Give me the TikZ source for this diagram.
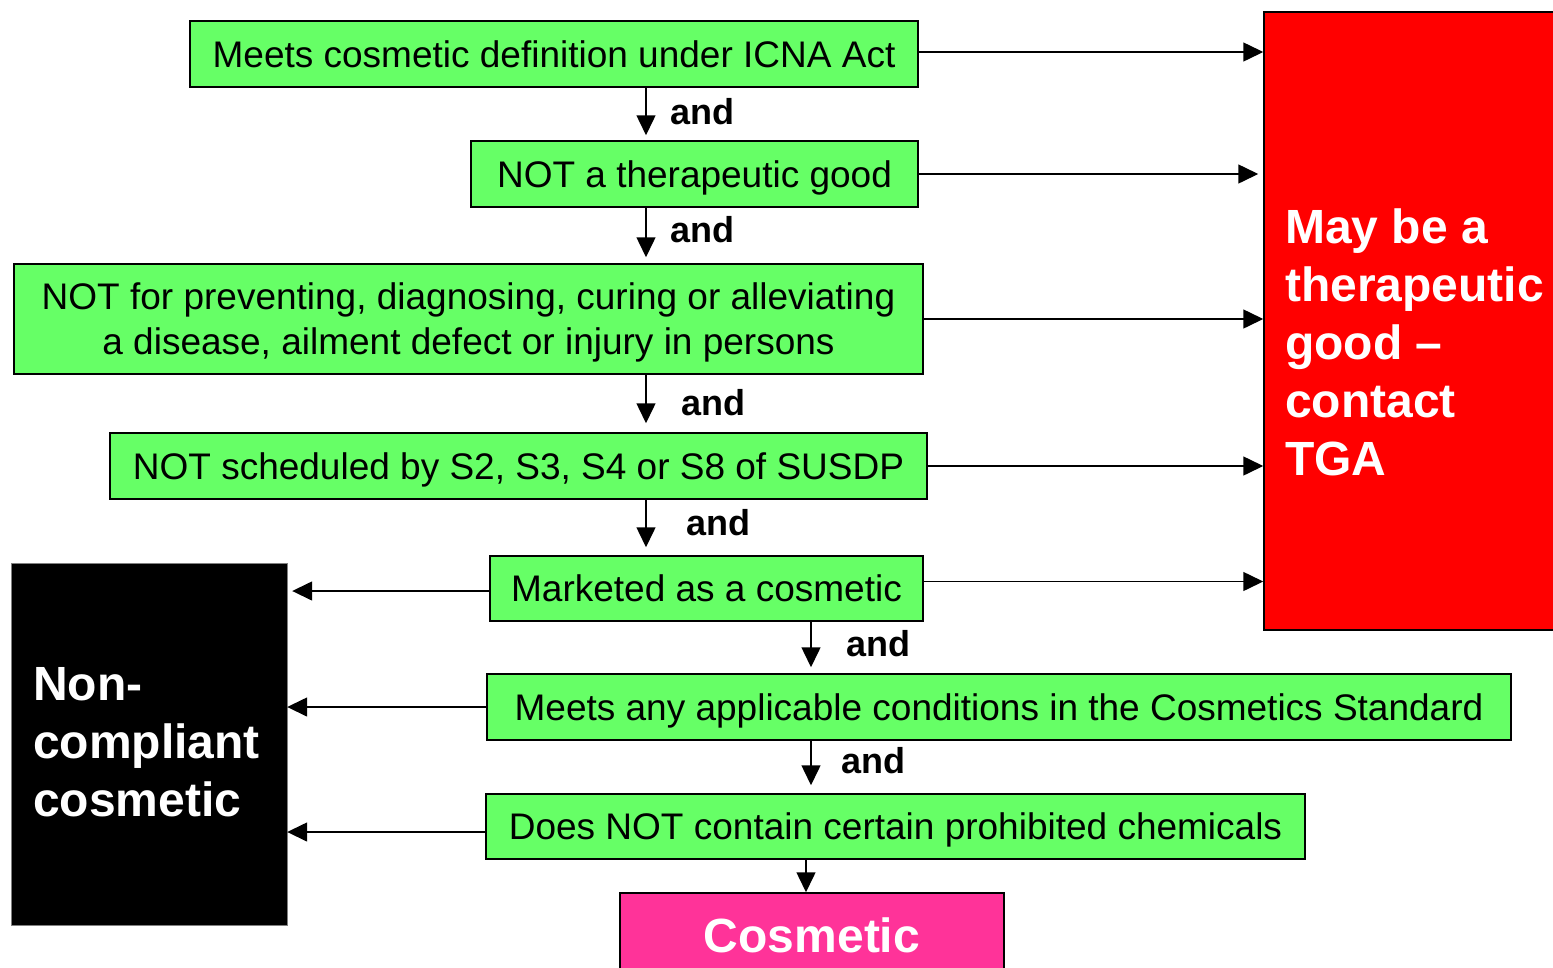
\documentclass[tikz,border=0pt]{standalone}
\usepackage{fontspec}
\setmainfont{Liberation Sans}
\usepackage{xcolor}
\usepackage{tikz}
\usetikzlibrary{arrows.meta}
\definecolor{boxgreen}{HTML}{66FF66}
\definecolor{tgared}{HTML}{FF0000}
\definecolor{cospink}{HTML}{FF3399}

\begin{document}
\begin{tikzpicture}[x=1pt, y=-1pt,
  test/.style={draw, line width=1.5pt, fill=boxgreen, inner sep=0pt, align=center, text depth=0pt,
    font=\fontsize{37}{45}\selectfont},
  andlbl/.style={anchor=west, inner sep=0pt, font=\fontsize{36}{40}\selectfont\bfseries},
  bigtxt/.style={inner sep=0pt, text=white, align=left, font=\fontsize{48}{58}\selectfont\bfseries},
  arr/.style={line width=1.5pt, -{Triangle[length=20pt,width=19pt]}}]
\useasboundingbox (0,0) rectangle (1553,967);

\node[test, minimum width=728pt, minimum height=66pt] (b1) at (554,54) {Meets cosmetic definition under ICNA Act};
\node[test, minimum width=447pt, minimum height=66pt] (b2) at (694.5,174) {NOT a therapeutic good};
\node[test, minimum width=909pt, minimum height=110pt] (b3) at (468.5,319) {NOT for preventing, diagnosing, curing or alleviating\\a disease, ailment defect or injury in persons};
\node[test, minimum width=817pt, minimum height=66pt] (b4) at (518.5,466) {NOT scheduled by S2, S3, S4 or S8 of SUSDP};
\node[test, minimum width=433pt, minimum height=65pt] (b5) at (706.5,588.5) {Marketed as a cosmetic};
\node[test, minimum width=1024pt, minimum height=66pt] (b6) at (999,707) {Meets any applicable conditions in the Cosmetics Standard};
\node[test, minimum width=819pt, minimum height=65pt] (b7) at (895.5,826.5) {Does NOT contain certain prohibited chemicals};

\node[draw, line width=1.5pt, fill=cospink, minimum width=384pt, minimum height=84pt, inner sep=0pt,
  text=white, font=\fontsize{48}{58}\selectfont\bfseries] (cos) at (812,935) {Cosmetic};

\node[draw, line width=1.5pt, fill=tgared, minimum width=306pt, minimum height=618pt] (tga) at (1417,321) {};
\node[bigtxt, anchor=west] (tgatxt) at (1285,342) {May be a\\therapeutic\\good –\\contact\\TGA};

\node[draw=gray, fill=black, minimum width=276pt, minimum height=362pt] (nc) at (149,744) {};
\node[bigtxt, anchor=west] (nctxt) at (33,742) {Non-\\compliant\\cosmetic};

\node[andlbl] (and1) at (670,112) {and};
\node[andlbl] (and2) at (670,230) {and};
\node[andlbl] (and3) at (681,403) {and};
\node[andlbl] (and4) at (686,523) {and};
\node[andlbl] (and5) at (846,644) {and};
\node[andlbl] (and6) at (841,761) {and};

\coordinate (colA) at (646,0);
\coordinate (colB) at (811,0);
\coordinate (colC) at (806,0);
\coordinate (r1) at ([yshift=2pt]b1.east);
\coordinate (r5) at ([yshift=7pt]b5.east);
\coordinate (l5) at ([yshift=-2.5pt]b5.west);
\coordinate (l7) at ([yshift=-5.5pt]b7.west);

\draw[arr, shorten >=5pt] (b1.south -| colA) -- (b2.north -| colA);
\draw[arr, shorten >=6pt] (b2.south -| colA) -- (b3.north -| colA);
\draw[arr, shorten >=9pt] (b3.south -| colA) -- (b4.north -| colA);
\draw[arr, shorten >=8pt] (b4.south -| colA) -- (b5.north -| colA);
\draw[arr, shorten >=6pt] (b5.south -| colB) -- (b6.north -| colB);
\draw[arr, shorten >=8pt] (b6.south -| colB) -- (b7.north -| colB);
\draw[arr] (b7.south -| colC) -- (cos.north -| colC);

\draw[arr] (r1) -- (tga.west |- r1);
\draw[arr, shorten >=5pt] (b2.east) -- (tga.west |- b2.east);
\draw[arr] (b3.east) -- (tga.west |- b3.east);
\draw[arr] (b4.east) -- (tga.west |- b4.east);
\draw[arr] (r5) -- (tga.west |- r5);

\draw[arr, shorten >=5pt] (l5) -- (nc.east |- l5);
\draw[arr] (b6.west) -- (nc.east |- b6.west);
\draw[arr] (l7) -- (nc.east |- l7);
\end{tikzpicture}
\end{document}
